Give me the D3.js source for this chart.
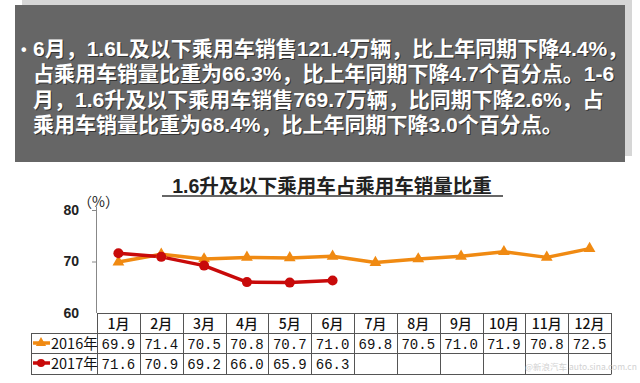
<!DOCTYPE html>
<html><head><meta charset="utf-8">
<script src="https://cdn.jsdelivr.net/npm/d3@7"></script>
<style>
html,body{margin:0;padding:0;background:#fff;}
svg{display:block;}
</style></head>
<body>
<svg id="c" width="640" height="383"></svg>
<script>
const months = ["1月","2月","3月","4月","5月","6月","7月","8月","9月","10月","11月","12月"];
const series2016 = [69.9,71.4,70.5,70.8,70.7,71.0,69.8,70.5,71.0,71.9,70.8,72.5];
const series2017 = [71.6,70.9,69.2,66.0,65.9,66.3];
const seriesNames = ["2016年","2017年"];
const yTicks = [60,70,80];
const title = "1.6升及以下乘用车占乘用车销量比重";
const unitLabel = "（%）";
const noteLines = [
  "6月，1.6L及以下乘用车销售121.4万辆，比上年同期下降4.4%，",
  "占乘用车销量比重为66.3%，比上年同期下降4.7个百分点。1-6",
  "月，1.6升及以下乘用车销售769.7万辆，比同期下降2.6%，占",
  "乘用车销量比重为68.4%，比上年同期下降3.0个百分点。"
];

const svg = d3.select("#c");
const sansCJK = "'Liberation Sans','Noto Sans CJK SC',sans-serif";

// --- note box ---
svg.append("rect").attr("x",22).attr("y",0).attr("width",610).attr("height",156).attr("fill","#d6d6d6");
svg.append("rect").attr("x",15).attr("y",5).attr("width",610).attr("height",157).attr("fill","#666666");
const lineY = [56,81,107,132];
svg.append("text").attr("x",21).attr("y",lineY[0]-1).attr("fill","#fff")
  .style("font-family",sansCJK).style("font-size","16px").style("font-weight","bold").text("•");
noteLines.forEach((t,i)=>{
  [["#333",1,1],["#ffffff",0,0]].forEach(([c,dx,dy])=>{
    svg.append("text").attr("x",33+dx).attr("y",lineY[i]+dy).attr("fill",c)
      .style("font-family",sansCJK).style("font-size","21px").style("font-weight","bold")
      .text(t);
  });
});

// --- title ---
svg.append("text").attr("x",332).attr("y",193).attr("text-anchor","middle")
  .attr("fill","#222").style("font-family",sansCJK).style("font-size","19.5px").style("font-weight","bold")
  .text(title);
svg.append("line").attr("x1",162).attr("x2",503).attr("y1",196).attr("y2",196).attr("stroke","#333").attr("stroke-width",1.6);

// --- scales ---
const x = d3.scaleBand().domain(months).range([97,611]);
const y = d3.scaleLinear().domain([60,80]).range([313,210]);
const cx = k => x(k)+x.bandwidth()/2;

// y axis
const ax = svg.append("g").attr("transform","translate(96,0)")
  .call(d3.axisLeft(y).tickValues(yTicks).tickSize(4).tickPadding(6).tickFormat(d3.format("d")));
ax.select(".domain").remove();
ax.selectAll(".tick line").attr("stroke","#888").filter(d=>d===60).remove();
ax.selectAll(".tick text").attr("fill","#222").style("font-family","'Liberation Sans',sans-serif")
  .style("font-size","14px").style("font-weight","bold").attr("x",-17);
svg.append("line").attr("x1",96.5).attr("x2",96.5).attr("y1",207).attr("y2",313).attr("stroke","#888").attr("stroke-width",1);
svg.append("text").attr("x",78).attr("y",207).attr("fill","#222")
  .style("font-family","'Noto Sans CJK SC',sans-serif").style("font-size","14px").text(unitLabel);

// --- lines ---
const orange = "#f08a12", red = "#c80a0a";
const line = d3.line().x((d,i)=>cx(months[i])).y(d=>y(d));
svg.append("path").datum(series2016).attr("d",line).attr("fill","none").attr("stroke",orange).attr("stroke-width",3.5).attr("stroke-linejoin","round");
svg.append("path").datum(series2017).attr("d",line).attr("fill","none").attr("stroke",red).attr("stroke-width",3.5).attr("stroke-linejoin","round");
const tri = d3.symbol().type(d3.symbolTriangle).size(60);
svg.selectAll(".m16").data(series2016).enter().append("path")
  .attr("transform",(d,i)=>`translate(${cx(months[i])},${y(d)})`).attr("d",tri).attr("fill",orange);
svg.selectAll(".m17").data(series2017).enter().append("circle")
  .attr("cx",(d,i)=>cx(months[i])).attr("cy",d=>y(d)).attr("r",5).attr("fill",red);

// --- table ---
const rowTop = [313,333,353];
const tcol = "#555";
const g = svg.append("g").attr("stroke",tcol).attr("stroke-width",1).attr("fill","none");
g.append("line").attr("x1",97).attr("x2",611).attr("y1",313.5).attr("y2",313.5);
[333.5,353.5,374.5].forEach(yy=>g.append("line").attr("x1",31).attr("x2",611).attr("y1",yy).attr("y2",yy));
g.append("line").attr("x1",31.5).attr("x2",31.5).attr("y1",333).attr("y2",374.5);
months.forEach(k=>g.append("line").attr("x1",Math.round(x(k))+0.5).attr("x2",Math.round(x(k))+0.5).attr("y1",313).attr("y2",374.5));
g.append("line").attr("x1",611.5).attr("x2",611.5).attr("y1",313).attr("y2",374.5);

const cellFont = "'Noto Sans CJK SC',sans-serif";
svg.selectAll(".mh").data(months).enter().append("text")
  .attr("x",d=>cx(d)).attr("y",329).attr("text-anchor","middle").attr("fill","#111")
  .style("font-family",cellFont).style("font-size","14px").style("font-weight","500").text(d=>d);
const valFont = "'Liberation Mono','DejaVu Sans Mono',monospace";
[series2016,series2017].forEach((s,r)=>{
  svg.selectAll(".v"+r).data(s).enter().append("text")
    .attr("x",(d,i)=>cx(months[i])).attr("y",rowTop[r+1]+15.5).attr("text-anchor","middle").attr("fill","#111")
    .style("font-family",valFont).style("font-size","14px").text(d=>d.toFixed(1));
});
// legend cells
[[orange,"tri"],[red,"dot"]].forEach(([c,k],r)=>{
  const yy = rowTop[r+1]+10;
  svg.append("line").attr("x1",33).attr("x2",50).attr("y1",yy).attr("y2",yy).attr("stroke",c).attr("stroke-width",3.5);
  if(k==="tri") svg.append("path").attr("transform",`translate(41,${yy})`).attr("d",d3.symbol().type(d3.symbolTriangle).size(45)).attr("fill",c);
  else svg.append("circle").attr("cx",41).attr("cy",yy).attr("r",4).attr("fill",c);
  svg.append("text").attr("x",51).attr("y",rowTop[r+1]+16).attr("fill","#111")
    .style("font-family",cellFont).style("font-size","14.5px").text(seriesNames[r]);
});
// watermark
svg.append("text").attr("x",525).attr("y",370).attr("fill","#c8c8c8").attr("opacity",0.8)
  .style("font-family",cellFont).style("font-size","8.5px").text("@新浪汽车 auto.sina.com.cn");
</script>
</body></html>
